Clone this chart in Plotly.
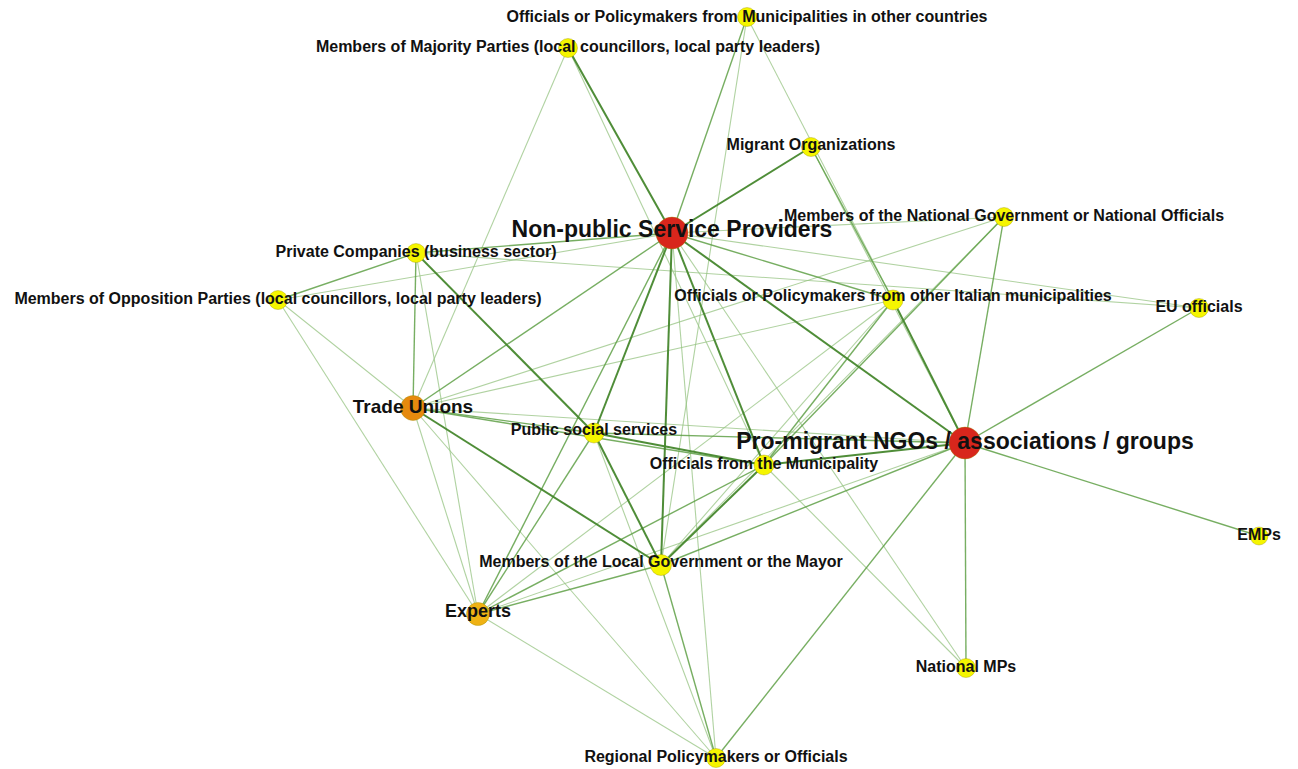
import plotly.graph_objects as go

# ---- node data ----
node_names = [
    "Officials or Policymakers from Municipalities in other countries",  # 0
    "Members of Majority Parties (local councillors, local party leaders)",  # 1
    "Migrant Organizations",  # 2
    "Non-public Service Providers",  # 3
    "Members of the National Government or National Officials",  # 4
    "Private Companies (business sector)",  # 5
    "Members of Opposition Parties (local councillors, local party leaders)",  # 6
    "Officials or Policymakers from other Italian municipalities",  # 7
    "EU officials",  # 8
    "Trade Unions",  # 9
    "Public social services",  # 10
    "Pro-migrant NGOs / associations / groups",  # 11
    "Officials from the Municipality",  # 12
    "EMPs",  # 13
    "Members of the Local Government or the Mayor",  # 14
    "Experts",  # 15
    "National MPs",  # 16
    "Regional Policymakers or Officials",  # 17
]
node_x = [747, 568, 811, 672, 1004, 416, 278, 893, 1199, 413, 594, 965, 764, 1259, 661, 478, 966, 716]
node_y = [17, 48, 147, 233, 217, 253, 300, 300, 308, 408, 433, 443, 465, 536, 565, 614, 668, 758]
node_color = ["#f5f500", "#f5f500", "#f5f500", "#d8261c", "#f5f500", "#f5f500", "#f5f500", "#f5f500",
              "#f5f500", "#e68a0e", "#f5f500", "#d8261c", "#f5f500", "#f5f500", "#f5f500", "#efb214",
              "#f5f500", "#f5f500"]
node_size = [19, 19, 19, 32, 19, 19, 19, 20, 19, 25, 20, 32, 20, 18, 21, 23, 19, 19]
label_size = [16, 16, 16, 23, 16, 16, 16, 16, 16, 19, 16, 23, 16, 16, 16, 18, 16, 16]
label_dy = [1, 0, -1, -2, 0, 0, 0, -3, 0, 0, -2, 0, 0, 0, -2, -2, 0, 0]

# ---- edge data: (source, target, weight 1=light,2=medium,3=strong) ----
edge_src = [3, 3, 3, 3, 3, 3, 3, 3, 3, 3, 3, 3, 3, 3, 3, 3,
            11, 11, 11, 11, 11, 11, 11, 11, 11, 11, 11, 11,
            9, 9, 9, 9, 9, 9, 9, 9, 9,
            5, 5, 5, 6,
            10, 10, 10, 10,
            12, 12, 12, 12, 12,
            14, 14, 14,
            15, 15, 1, 1, 0, 0, 2, 4, 8]
edge_dst = [1, 0, 2, 5, 6, 4, 8, 7, 11, 12, 10, 14, 9, 15, 17, 16,
            7, 4, 8, 13, 16, 17, 14, 12, 10, 9, 15, 2,
            5, 6, 10, 12, 14, 15, 17, 4, 7,
            10, 15, 6, 15,
            14, 12, 15, 17,
            14, 15, 7, 4, 16,
            17, 15, 7,
            17, 7, 9, 12, 7, 14, 7, 14, 5]
edge_w = [3, 2, 3, 2, 1, 1, 1, 2, 3, 3, 3, 3, 2, 2, 1, 1,
          3, 2, 2, 2, 2, 2, 2, 3, 2, 1, 1, 1,
          2, 1, 2, 2, 3, 1, 1, 1, 1,
          3, 1, 2, 1,
          3, 3, 2, 1,
          3, 2, 2, 2, 1,
          2, 2, 1,
          1, 1, 1, 1, 1, 1, 2, 1, 1]

edge_style = {
    1: dict(color="rgba(150,195,130,0.75)", width=1.1),
    2: dict(color="rgba(95,160,70,0.85)", width=1.4),
    3: dict(color="rgba(70,135,45,0.95)", width=2.0),
}

fig = go.Figure()
for w in (1, 2, 3):
    xs, ys = [], []
    for s, t, ew in zip(edge_src, edge_dst, edge_w):
        if ew != w:
            continue
        xs += [node_x[s], node_x[t], None]
        ys += [node_y[s], node_y[t], None]
    fig.add_trace(go.Scatter(x=xs, y=ys, mode="lines", line=edge_style[w],
                             hoverinfo="skip", showlegend=False))

fig.add_trace(go.Scatter(
    x=node_x, y=node_y, mode="markers", hovertext=node_names, hoverinfo="text",
    marker=dict(size=node_size, color=node_color, opacity=1,
                line=dict(width=0.6, color="rgba(150,140,0,0.6)")),
    cliponaxis=False, showlegend=False))

label_y = [y + d for y, d in zip(node_y, label_dy)]
fig.add_trace(go.Scatter(
    x=node_x, y=label_y, mode="text", text=node_names, textposition="middle center",
    textfont=dict(family="Liberation Sans, Arial, sans-serif", size=label_size, color="#111111",
                  weight="bold"),
    cliponaxis=False, hoverinfo="skip", showlegend=False))

fig.update_layout(
    width=1298, height=769,
    margin=dict(l=0, r=0, t=0, b=0),
    paper_bgcolor="white", plot_bgcolor="white",
    xaxis=dict(range=[0, 1298], visible=False, fixedrange=True),
    yaxis=dict(range=[769, 0], visible=False, fixedrange=True),
)
fig.write_html("out.html", config={"displayModeBar": False},
               post_script="document.body.style.margin='0';document.body.style.overflow='hidden';")
